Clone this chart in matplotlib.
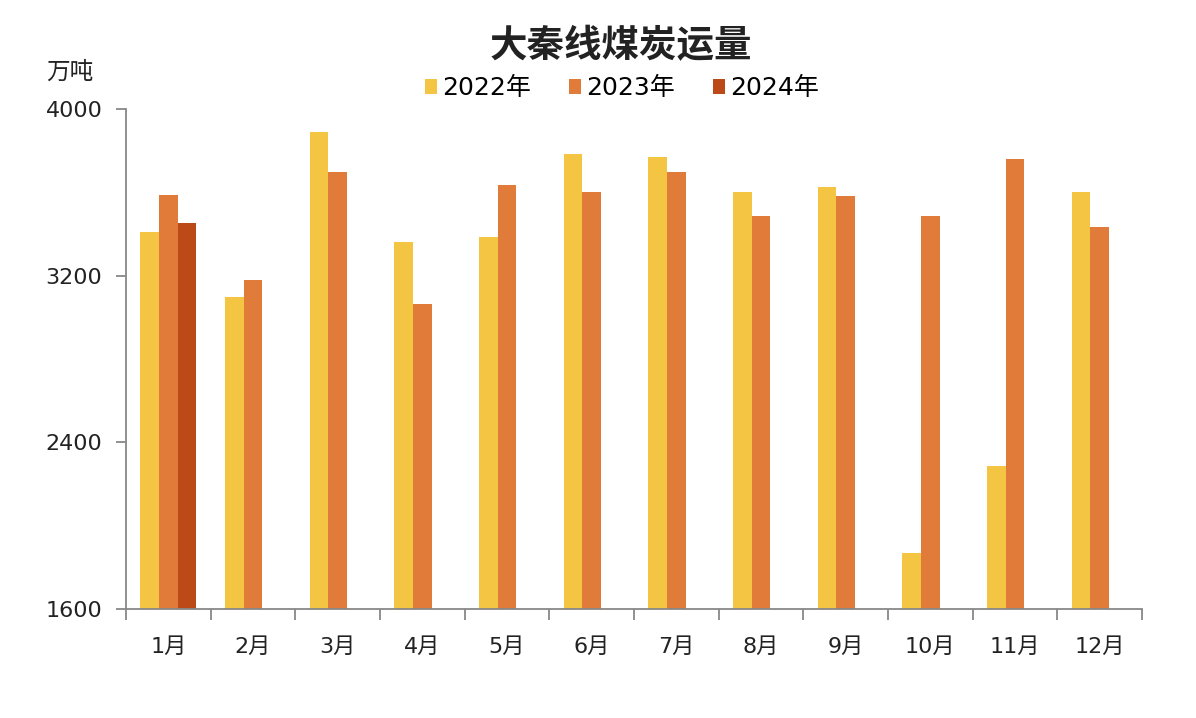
import matplotlib
matplotlib.use("Agg")
import matplotlib.pyplot as plt
import numpy as np
from matplotlib.patches import Patch

plt.rcParams['font.family'] = ['Noto Sans CJK SC', 'DejaVu Sans']

months = ['1月', '2月', '3月', '4月', '5月', '6月', '7月', '8月', '9月', '10月', '11月', '12月']
v2022 = [3408, 3096, 3891, 3360, 3384, 3782, 3771, 3603, 3627, 1869, 2288, 3600]
v2023 = [3587, 3179, 3699, 3064, 3635, 3603, 3699, 3486, 3582, 3486, 3760, 3435]
v2024 = [3453]
series_names = ['2022年', '2023年', '2024年']
colors = ['#F4C443', '#E07B3A', '#BC4A18']
yticks = [1600, 2400, 3200, 4000]

num_font = ['DejaVu Sans', 'Noto Sans CJK SC']

fig = plt.figure(figsize=(11.96, 7.18), dpi=100)
ax = fig.add_axes([0.1054, 0.1518, 0.8494, 0.6964])

x = np.arange(len(months))
w = 0.22
ax.bar(x - w, v2022, width=w, color=colors[0])
ax.bar(x, v2023, width=w, color=colors[1])
ax.bar(x[:len(v2024)] + w, v2024, width=w, color=colors[2])

ax.set_ylim(1600, 4000)
ax.set_xlim(-0.5, len(months) - 0.5)
ax.set_yticks(yticks)
ax.set_yticklabels([str(t) for t in yticks], fontsize=16, color='#222222', family=num_font)
ax.set_xticks(np.arange(-0.5, len(months), 1.0))
ax.set_xticklabels([])
ax.set_xticks(x, minor=True)
ax.set_xticklabels(months, minor=True, fontsize=16, color='#222222', family=num_font)
ax.tick_params(axis='x', which='minor', length=0, pad=20)
ax.tick_params(axis='x', which='major', length=8, width=1.3, color='#888888', direction='out')
ax.tick_params(axis='y', length=7, width=1.3, color='#888888', direction='out', pad=10)
for s in ['top', 'right']:
    ax.spines[s].set_visible(False)
for s in ['left', 'bottom']:
    ax.spines[s].set_color('#888888')
    ax.spines[s].set_linewidth(1.3)

fig.text(0.519, 0.937, '大秦线煤炭运量', ha='center', va='center', fontsize=27, fontweight='bold', color='#222222')
fig.text(0.058, 0.9, '万吨', ha='center', va='center', fontsize=17, color='#222222')

handles = [Patch(facecolor=c, edgecolor='none') for c in colors]
fig.legend(handles, series_names, loc='center', bbox_to_anchor=(0.52, 0.877), ncol=3, frameon=False,
           fontsize=18, prop={'family': num_font, 'size': 18},
           handlelength=0.5, handleheight=0.5, handletextpad=0.2, columnspacing=1.5)

fig.savefig('out.png', dpi=100, facecolor='white')
